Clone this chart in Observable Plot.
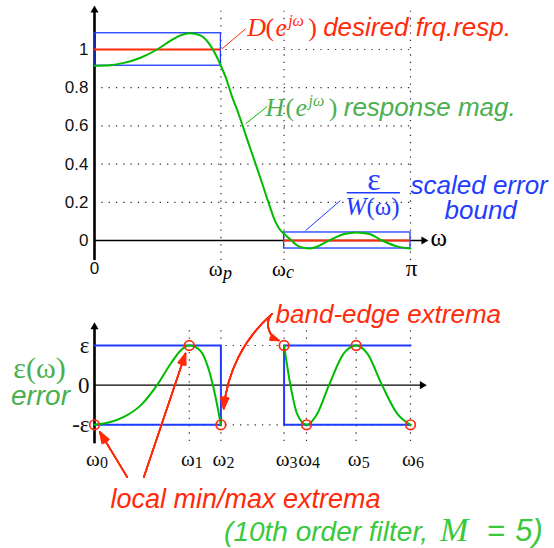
<!DOCTYPE html>
<html><head><meta charset="utf-8">
<script src="https://cdn.jsdelivr.net/npm/d3@7"></script>
<script src="https://cdn.jsdelivr.net/npm/@observablehq/plot@0.6"></script>
<style>
body{margin:0;background:#fff;}
#chart{width:554px;height:548px;overflow:hidden;}
#chart svg{display:block;}
</style></head><body><div id="chart"></div>
<script>
// ---------- data (frequencies in units of π) ----------
const bandEdges = [0.4, 0.6];            // ωp, ωc
const delta1 = 0.085;                    // passband ripple
const delta2 = 0.042;                    // stopband ripple
const magTicks = [0, 0.2, 0.4, 0.6, 0.8, 1];
const topGridX = [0.4, 0.6, 1];
const hOmega = [0,0.05,0.093,0.146,0.198,0.241,0.272,0.30,0.335,0.362,0.383,0.40,0.415,0.435,0.45,0.467,0.488,0.51,0.531,0.552,0.573,0.59,0.60,0.62,0.64,0.66,0.68,0.70,0.74,0.79,0.83,0.87,0.91,0.96,1.0];
const hMag   = [0.915,0.918,0.93,0.957,1.0,1.046,1.074,1.085,1.074,1.032,0.975,0.915,0.855,0.755,0.69,0.61,0.506,0.40,0.297,0.192,0.096,0.05,0.035,0.005,-0.025,-0.038,-0.042,-0.035,-0.002,0.034,0.042,0.034,0,-0.032,-0.042];
const errOmegaPass = [0,0.05,0.093,0.146,0.198,0.241,0.272,0.30,0.335,0.362,0.383,0.40];
const errPass      = [-1,-0.93,-0.80,-0.51,0,0.54,0.87,1,0.87,0.38,-0.30,-1];
const errOmegaStop = [0.60,0.62,0.641,0.671,0.705,0.742,0.789,0.828,0.863,0.91,0.958,1.0];
const errStop      = [1,0,-0.72,-1,-0.72,0,0.80,1,0.80,0,-0.72,-1];
const extremaOmega = [0,0.30,0.40,0.60,0.671,0.828,1];
const extremaErr   = [-1,1,-1,1,-1,1,-1];
const extremaSub   = ["0","1","2","3","4","5","6"];
const errTickVals  = [1,0,-1];
const errTickLabels= ["ε","0","-ε"];
const dLabel = ["D","(","e","jω",")","desired frq.resp."];
const hLabel = ["H","(","e","jω",")","response mag."];
const boundLabel = ["ε","W","(ω)","scaled error","bound"];
const noteBand = "band-edge extrema";
const noteLocal = "local min/max extrema";
const noteOrder = ["(10th order filter,","M","=","5)"];

// ---------- styles ----------
const RED = "#ff2a0a", BLUE = "#1f3cff", GREEN = "#00bb00", GTXT = "#4caf50", GTXT2 = "#3cc83c";
const SERIF = "Liberation Serif", SANS = "Liberation Sans";
const DOT = {stroke:"#333", strokeWidth:1.2, strokeDasharray:"1.3,6"};

function txt(s, x, y, o = {}) {
  return Plot.text([s], {x, y, text: d => d, textAnchor: "start", lineAnchor: "bottom",
    fontFamily: SANS, fontSize: 26, ...o});
}
function rich(pieces, x, y, specs) { return pieces.map((p, i) => txt(p, x, y, specs[i])); }
function arrows(data, bend) {
  return [10, 20, 30, 40].map(a => Plot.arrow(data, {x1:"x1", y1:"y1", x2:"x2", y2:"y2",
    bend, headAngle: a, headLength: 11, stroke: RED, strokeWidth: 1.6}));
}

// ---------- top panel ----------
const hData = hOmega.map((w, i) => ({w, h: hMag[i]}));
const boxes = [
  {x1: 0, x2: bandEdges[0], y1: 1 - delta1, y2: 1 + delta1},
  {x1: bandEdges[1], x2: 1, y1: -delta2, y2: delta2}
];
const topPlot = Plot.plot({
  width: 554, height: 288, marginLeft: 94, marginRight: 144, marginTop: 49, marginBottom: 48,
  x: {domain: [0, 1], axis: null}, y: {domain: [0, 1], axis: null},
  style: {fontFamily: SANS, background: "white"},
  marks: [
    Plot.ruleY(magTicks.filter(d => d > 0), {x1: 0, x2: 1, ...DOT}),
    Plot.ruleX(topGridX, {y1: -0.105, y2: 1.2, ...DOT}),
    Plot.ruleY([0], {x1: 0, x2: 1.04, stroke: "black", strokeWidth: 1.3}),
    Plot.ruleX([0], {y1: -0.105, y2: 1.2, stroke: "black", strokeWidth: 2.6}),
    Plot.dot([0], {x: 0, y: 1.206, symbol: "triangle", r: 3, fill: "black"}),
    Plot.dot([0], {x: 1.042, y: 0, symbol: "triangle", r: 3, fill: "black", rotate: 90}),
    Plot.rect(boxes, {x1: "x1", x2: "x2", y1: "y1", y2: "y2", fill: "none", stroke: BLUE, strokeWidth: 1.3}),
    Plot.ruleY([1], {x1: 0, x2: bandEdges[0], stroke: RED, strokeWidth: 2}),
    Plot.ruleY([0], {x1: bandEdges[1], x2: 1, stroke: RED, strokeWidth: 2}),
    Plot.line(hData, {x: "w", y: "h", curve: "monotone-x", stroke: GREEN, strokeWidth: 2}),
    // leader lines
    Plot.link([0], {x1: 0.404, y1: 1.004, x2: 0.478, y2: 1.108, stroke: RED, strokeWidth: 1}),
    Plot.link([0], {x1: 0.478, y1: 0.611, x2: 0.547, y2: 0.702, stroke: GREEN, strokeWidth: 1}),
    Plot.link([0], {x1: 0.668, y1: 0.052, x2: 0.778, y2: 0.209, stroke: BLUE, strokeWidth: 1}),
    // y tick labels
    Plot.text(magTicks, {x: 0, y: d => d, text: d => String(d), textAnchor: "end", dx: -6, fontSize: 17, fill: "#111"}),
    // x tick labels
    txt("0", 0, 0, {textAnchor: "middle", dy: 33, fontSize: 17, fill: "#111"}),
    txt("ω", bandEdges[0], 0, {textAnchor: "end", dx: 1.7, dy: 35, fontFamily: SERIF, fontSize: 21}),
    txt("p", bandEdges[0], 0, {dx: 2, dy: 38, fontFamily: SERIF, fontStyle: "italic", fontSize: 18}),
    txt("ω", bandEdges[1], 0, {textAnchor: "end", dx: 1.7, dy: 35, fontFamily: SERIF, fontSize: 21}),
    txt("c", bandEdges[1], 0, {dx: 2, dy: 37, fontFamily: SERIF, fontStyle: "italic", fontSize: 18}),
    txt("π", 1, 0, {textAnchor: "middle", dx: 1, dy: 35, fontFamily: SERIF, fontSize: 23}),
    txt("ω", 1.063, -0.031, {fontFamily: SERIF, fontSize: 25}),
    // D label
    ...rich(dLabel, 0.483, 1.073, [
      {fill: RED, fontFamily: SERIF, fontStyle: "italic"},
      {fill: RED, fontFamily: SERIF, dx: 18.3},
      {fill: RED, fontFamily: SERIF, fontStyle: "italic", dx: 28.3},
      {fill: RED, fontFamily: SERIF, fontStyle: "italic", dx: 41, dy: -10, fontSize: 16},
      {fill: RED, fontFamily: SERIF, dx: 61},
      {fill: RED, fontStyle: "italic", dx: 76}
    ]),
    // H label
    ...rich(hLabel, 0.541, 0.654, [
      {fill: GTXT, fontFamily: SERIF, fontStyle: "italic"},
      {fill: GTXT, fontFamily: SERIF, dx: 20},
      {fill: GTXT, fontFamily: SERIF, fontStyle: "italic", dx: 30},
      {fill: GTXT, fontFamily: SERIF, fontStyle: "italic", dx: 43, dy: -10, fontSize: 16},
      {fill: GTXT, fontFamily: SERIF, dx: 63.3},
      {fill: GTXT, fontStyle: "italic", dx: 78.3}
    ]),
    // scaled error bound
    txt(boundLabel[0], 0.884, 0.262, {textAnchor: "middle", fill: BLUE, fontFamily: SERIF, fontSize: 32}),
    Plot.ruleY([0.25], {x1: 0.80, x2: 0.968, stroke: BLUE, strokeWidth: 1.5}),
    txt(boundLabel[1], 0.794, 0.131, {fill: BLUE, fontFamily: SERIF, fontStyle: "italic", fontSize: 25}),
    txt(boundLabel[2], 0.794, 0.131, {fill: BLUE, fontFamily: SERIF, fontSize: 25, dx: 21}),
    txt(boundLabel[3], 1.0, 0.246, {fill: BLUE, fontStyle: "italic"}),
    txt(boundLabel[4], 1.222, 0.114, {textAnchor: "middle", fill: BLUE, fontStyle: "italic"})
  ]
});

// ---------- bottom panel ----------
const passData = errOmegaPass.map((w, i) => ({w, e: errPass[i]}));
const stopData = errOmegaStop.map((w, i) => ({w, e: errStop[i]}));
const extData = extremaOmega.map((w, i) => ({w, e: extremaErr[i], s: extremaSub[i]}));
const passBox = [{x: 0, y: 1}, {x: bandEdges[0], y: 1}, {x: bandEdges[0], y: -1}, {x: 0, y: -1}];
const stopBox = [{x: 1, y: 1}, {x: bandEdges[1], y: 1}, {x: bandEdges[1], y: -1}, {x: 1, y: -1}];
const straightArrows = [
  {x1: 0.1035, y1: -2.32, x2: 0.0168, y2: -1.18},
  {x1: 0.156, y1: -2.32, x2: 0.288, y2: 0.80}
];
const bendArrowLong = [{x1: 0.562, y1: 1.80, x2: 0.409, y2: -0.596}];
const bendArrowShort = [{x1: 0.557, y1: 1.757, x2: 0.583, y2: 1.13}];

const bottomPlot = Plot.plot({
  width: 554, height: 260, marginLeft: 94, marginRight: 144, marginTop: 57, marginBottom: 123.7,
  x: {domain: [0, 1], axis: null}, y: {domain: [-1, 1], axis: null},
  style: {fontFamily: SANS, background: "white"},
  marks: [
    Plot.ruleX(extremaOmega.slice(1), {y1: -1.42, y2: 1.44, ...DOT}),
    Plot.ruleY([-1, 1], {x1: 0, x2: 1, ...DOT}),
    Plot.ruleY([0], {x1: 0, x2: 1.035, stroke: "black", strokeWidth: 1.3}),
    Plot.ruleX([0], {y1: -1.48, y2: 1.45, stroke: "black", strokeWidth: 2.6}),
    Plot.dot([0], {x: 0, y: 1.47, symbol: "triangle", r: 3, fill: "black"}),
    Plot.dot([0], {x: 1.037, y: 0, symbol: "triangle", r: 3, fill: "black", rotate: 90}),
    Plot.line(passBox, {x: "x", y: "y", stroke: BLUE, strokeWidth: 2}),
    Plot.line(stopBox, {x: "x", y: "y", stroke: BLUE, strokeWidth: 2}),
    Plot.line(passData, {x: "w", y: "e", curve: "monotone-x", stroke: GREEN, strokeWidth: 2}),
    Plot.line(stopData, {x: "w", y: "e", curve: "monotone-x", stroke: GREEN, strokeWidth: 2}),
    Plot.dot(extData, {x: "w", y: "e", r: 4.8, stroke: RED, strokeWidth: 1.7, fill: "none"}),
    ...arrows(straightArrows, 0),
    ...arrows(bendArrowLong, -22),
    ...arrows(bendArrowShort, -50),
    // y tick labels
    Plot.text(errTickVals, {x: 0, y: d => d, text: (d, i) => errTickLabels[i], textAnchor: "end", dx: -5,
      fontFamily: SERIF, fontSize: 23, fill: "#111"}),
    // x tick labels ω_k
    Plot.text(extData, {x: "w", y: -1, text: () => "ω", textAnchor: "middle", lineAnchor: "bottom", dx: -1.5, dy: 41,
      fontFamily: SERIF, fontSize: 21, fill: "#111"}),
    Plot.text(extData, {x: "w", y: -1, text: "s", textAnchor: "start", lineAnchor: "bottom", dx: 5.5, dy: 43,
      fontFamily: SERIF, fontSize: 16, fill: "#111"}),
    // side label
    txt("ε(ω)", -0.174, 0.17, {textAnchor: "middle", fill: GTXT, fontFamily: SERIF, fontSize: 30}),
    txt("error", -0.171, -0.513, {textAnchor: "middle", fill: GTXT, fontStyle: "italic", fontSize: 28}),
    // notes
    txt(noteBand, 0.573, 1.58, {fill: RED, fontStyle: "italic", fontSize: 26}),
    txt(noteLocal, 0.0506, -3.098, {fill: RED, fontStyle: "italic", fontSize: 27}),
    ...rich(noteOrder, 0.41, -3.94, [
      {fill: GTXT2, fontStyle: "italic", fontSize: 28},
      {fill: GTXT2, fontFamily: SERIF, fontStyle: "italic", fontSize: 34, dx: 216},
      {fill: GTXT2, fontStyle: "italic", fontSize: 31, dx: 262.8},
      {fill: GTXT2, fontStyle: "italic", fontSize: 31, dx: 291.3}
    ])
  ]
});

const chart = document.getElementById("chart");
chart.appendChild(topPlot);
chart.appendChild(bottomPlot);
</script>
</body></html>
